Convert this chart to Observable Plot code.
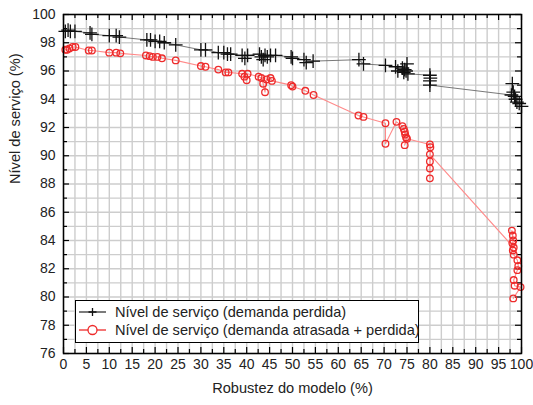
<!DOCTYPE html>
<html>
<head>
<meta charset="utf-8">
<script src="https://cdn.jsdelivr.net/npm/d3@7"></script>
<script src="https://cdn.jsdelivr.net/npm/@observablehq/plot@0.6"></script>
<style>
  html, body { margin: 0; padding: 0; background: #fff; }
  #wrap { position: relative; width: 533px; height: 405px; font-family: "Liberation Sans", Arial, sans-serif; }
  #legend { position: absolute; left: 75px; top: 300px; width: 344px; height: 43px; background: #fff; border: 1px solid #000; box-sizing: border-box; font-size: 14.6px; color: #222; }
  .row { position: absolute; left: 0; height: 18px; display: flex; align-items: center; white-space: nowrap; }
  .row svg { margin-left: 3px; margin-right: 9px; flex: none; }
</style>
</head>
<body>
<div id="wrap"></div>
<script>
// ---- data ----
const seriesNames = ["Nível de serviço (demanda perdida)", "Nível de serviço (demanda atrasada + perdida)"];

const lostX = [0.4, 1.0, 1.5, 2.5, 5.8, 6.2, 10.0, 11.5, 12.2, 18.2, 19.0, 20.0, 21.0, 22.0, 24.5, 30.0, 31.0, 33.8, 35.0, 35.8, 36.5, 39.0, 39.6, 40.2, 42.8, 43.2, 43.6, 44.0, 44.5, 45.2, 46.3, 49.7, 50.0, 52.5, 53.0, 54.5, 64.5, 65.5, 70.3, 72.5, 73.0, 74.0, 74.3, 74.5, 74.8, 75.0, 75.2, 80.0, 80.1, 80.0, 80.0, 97.8, 98.0, 98.2, 98.5, 98.7, 99.0, 99.5, 100.0];
const lostY = [98.8, 98.9, 98.8, 98.8, 98.7, 98.6, 98.5, 98.5, 98.4, 98.2, 98.2, 98.1, 98.1, 98.0, 97.85, 97.5, 97.5, 97.3, 97.3, 97.2, 97.2, 97.1, 96.9, 97.1, 97.2, 97.0, 96.8, 97.1, 97.0, 97.1, 97.1, 97.0, 96.9, 96.8, 96.6, 96.7, 96.8, 96.5, 96.4, 96.3, 96.0, 96.2, 95.9, 96.1, 96.0, 96.5, 95.8, 95.7, 95.5, 95.3, 95.0, 94.3, 95.1, 94.5, 94.2, 94.0, 93.8, 93.7, 93.5];

const delayedX = [0.4, 0.8, 1.3, 2.0, 2.6, 5.5, 6.2, 10.0, 11.5, 12.4, 18.0, 18.8, 19.5, 20.5, 21.5, 24.5, 30.0, 31.0, 33.8, 35.4, 36.0, 39.0, 39.5, 40.0, 40.2, 42.6, 43.2, 43.6, 44.0, 44.3, 45.2, 45.5, 49.7, 50.0, 52.8, 54.6, 64.4, 65.5, 70.3, 70.3, 72.7, 74.0, 74.3, 74.5, 74.6, 74.8, 74.5, 75.0, 80.0, 80.1, 80.0, 80.0, 80.0, 80.0, 98.3, 97.9, 98.1, 98.2, 98.0, 98.1, 98.3, 99.1, 99.3, 99.1, 98.3, 98.5, 99.8, 98.2];
const delayedY = [97.5, 97.5, 97.6, 97.7, 97.7, 97.45, 97.45, 97.3, 97.3, 97.25, 97.1, 97.05, 97.0, 97.0, 96.9, 96.75, 96.35, 96.3, 96.1, 95.9, 95.9, 95.8, 95.6, 95.35, 95.8, 95.6, 95.5, 95.1, 94.5, 95.4, 95.5, 95.3, 95.0, 94.9, 94.6, 94.3, 92.85, 92.75, 92.3, 90.85, 92.4, 92.1, 91.9, 91.7, 91.5, 91.3, 90.75, 91.2, 90.8, 90.6, 88.4, 89.1, 89.6, 90.1, 83.5, 84.7, 84.35, 84.0, 83.8, 83.3, 83.0, 82.6, 82.2, 81.9, 81.2, 80.8, 80.7, 79.9];

const xTicks = [0, 5, 10, 15, 20, 25, 30, 35, 40, 45, 50, 55, 60, 65, 70, 75, 80, 85, 90, 95, 100];
const xMinor = [2.5, 7.5, 12.5, 17.5, 22.5, 27.5, 32.5, 37.5, 42.5, 47.5, 52.5, 57.5, 62.5, 67.5, 72.5, 77.5, 82.5, 87.5, 92.5, 97.5];
const yTicks = [76, 78, 80, 82, 84, 86, 88, 90, 92, 94, 96, 98, 100];
const yMinor = [77, 79, 81, 83, 85, 87, 89, 91, 93, 95, 97, 99];
const xTitle = "Robustez do modelo (%)";
const yTitle = "Nível de serviço (%)";

// ---- build ----
const lost = lostX.map((x, i) => ({x, y: lostY[i]}));
const delayed = delayedX.map((x, i) => ({x, y: delayedY[i]}));

const W = 533, H = 405, mL = 63, mR = 12, mT = 14, mB = 52;
const iW = W - mL - mR, iH = H - mT - mB;
const black = "#111", blackLine = "#6a6a6a", red = "#ee2b2b", redLine = "#ff8a8a";
const gridC = "#cdcdcd";

const chart = Plot.plot({
  width: W, height: H,
  marginLeft: mL, marginRight: mR, marginTop: mT, marginBottom: mB,
  style: {fontFamily: '"Liberation Sans", Arial, sans-serif', fontSize: "14px", color: "#222", background: "#fff"},
  x: {domain: [0, 100]},
  y: {domain: [76, 100]},
  marks: [
    Plot.ruleX(xTicks.concat(xMinor), {stroke: gridC, strokeWidth: 1.4}),
    Plot.ruleY(yTicks.concat(yMinor), {stroke: gridC, strokeWidth: 1.4}),
    // inward ticks
    Plot.ruleX(xTicks, {insetTop: iH - 6, stroke: "#000", strokeWidth: 1.2}),
    Plot.ruleX(xMinor, {insetTop: iH - 4, stroke: "#000", strokeWidth: 1.2}),
    Plot.ruleX(xTicks, {insetBottom: iH - 6, stroke: "#000", strokeWidth: 1.2}),
    Plot.ruleX(xMinor, {insetBottom: iH - 4, stroke: "#000", strokeWidth: 1.2}),
    Plot.ruleY(yTicks, {insetRight: iW - 6, stroke: "#000", strokeWidth: 1.2}),
    Plot.ruleY(yMinor, {insetRight: iW - 4, stroke: "#000", strokeWidth: 1.2}),
    Plot.ruleY(yTicks, {insetLeft: iW - 6, stroke: "#000", strokeWidth: 1.2}),
    Plot.ruleY(yMinor, {insetLeft: iW - 4, stroke: "#000", strokeWidth: 1.2}),
    Plot.axisX(xTicks, {tickSize: 0, tickPadding: 6, fontSize: 14, label: null}),
    Plot.axisY(yTicks, {tickSize: 0, tickPadding: 8, fontSize: 14, label: null}),
    // series
    Plot.line(lost, {x: "x", y: "y", stroke: blackLine, strokeWidth: 0.9}),
    Plot.line(delayed, {x: "x", y: "y", stroke: redLine, strokeWidth: 1.1}),
    Plot.dot(lost, {x: "x", y: "y", symbol: "plus", r: 4.5, stroke: black, strokeWidth: 1.3}),
    Plot.dot(delayed, {x: "x", y: "y", symbol: "circle", r: 3.3, stroke: red, strokeWidth: 1.3, fill: "none"}),
    Plot.frame({stroke: "#000", strokeWidth: 1.5}),
    Plot.text([xTitle], {frameAnchor: "bottom", dy: 39, fontSize: 14.6, fill: "#222"}),
    Plot.text([yTitle], {frameAnchor: "left", dx: -48, rotate: -90, fontSize: 14.6, fill: "#222"})
  ]
});

const wrap = document.getElementById("wrap");
wrap.appendChild(chart);

// legend
const legend = document.createElement("div");
legend.id = "legend";
const rows = [
  {name: seriesNames[0], kind: "plus", top: 2},
  {name: seriesNames[1], kind: "circle", top: 20}
];
for (const r of rows) {
  const row = document.createElement("div");
  row.className = "row";
  row.style.top = r.top + "px";
  const ns = "http://www.w3.org/2000/svg";
  const s = document.createElementNS(ns, "svg");
  s.setAttribute("width", 27); s.setAttribute("height", 14);
  const ln = document.createElementNS(ns, "line");
  ln.setAttribute("x1", 0); ln.setAttribute("x2", 27); ln.setAttribute("y1", 7); ln.setAttribute("y2", 7);
  ln.setAttribute("stroke", r.kind === "plus" ? "#333" : red); ln.setAttribute("stroke-width", 1.3);
  s.appendChild(ln);
  if (r.kind === "plus") {
    const p = document.createElementNS(ns, "path");
    p.setAttribute("d", "M9.5,7H17.5M13.5,3V11");
    p.setAttribute("stroke", "#111"); p.setAttribute("stroke-width", 1.3);
    s.appendChild(p);
  } else {
    const c = document.createElementNS(ns, "circle");
    c.setAttribute("cx", 13.5); c.setAttribute("cy", 7); c.setAttribute("r", 4.5);
    c.setAttribute("stroke", red); c.setAttribute("stroke-width", 1.3); c.setAttribute("fill", "#fff");
    s.appendChild(c);
  }
  row.appendChild(s);
  const t = document.createElement("span");
  t.textContent = r.name;
  row.appendChild(t);
  legend.appendChild(row);
}
wrap.appendChild(legend);
</script>
</body>
</html>
